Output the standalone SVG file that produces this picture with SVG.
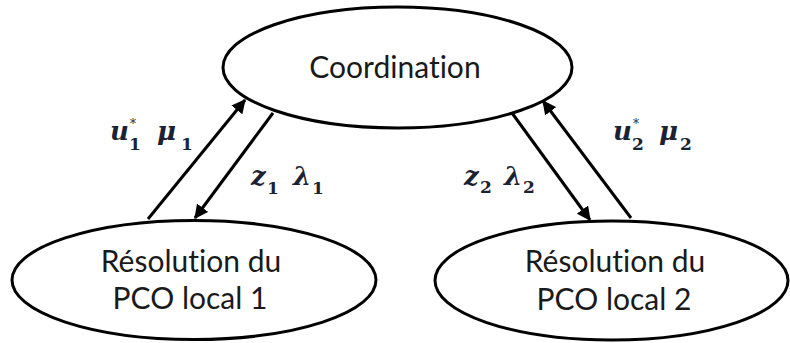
<svg xmlns="http://www.w3.org/2000/svg" width="790" height="343" viewBox="0 0 790 343">
<style>
.node{fill:#fff;stroke:#000;stroke-width:3}
.lbl{font-family:Lato,"Open Sans",sans-serif;font-size:30px;fill:#1a1a1a;text-anchor:middle;font-variant-ligatures:none}
.conn{stroke:#000;stroke-width:3;fill:none;marker-end:url(#arr)}
.m{font-family:"DejaVu Serif",serif;font-weight:bold;font-style:italic;font-size:26px;fill:#1b2233}
.s{font-family:"DejaVu Serif",serif;font-weight:bold;font-size:17px;fill:#1b2233}
.st{font-family:"DejaVu Serif",serif;font-size:12px;fill:#1b2233}
</style>
<defs>
<marker id="arr" viewBox="0 0 12 12" refX="11" refY="6" markerWidth="14" markerHeight="14" markerUnits="userSpaceOnUse" orient="auto">
<path d="M0,0 L12,6 L0,12 z" fill="#000"/>
</marker>
</defs>
<rect width="790" height="343" fill="#fff"/>
<g id="coordination">
<ellipse class="node" cx="397.5" cy="67.5" rx="174.5" ry="60.5"/>
<text class="lbl" x="395" y="78">Coordination</text>
</g>
<g id="pco1">
<ellipse class="node" cx="194" cy="280" rx="182" ry="59.5"/>
<text class="lbl" x="191" y="272">Résolution du</text>
<text class="lbl" x="190" y="309">PCO local 1</text>
</g>
<g id="pco2">
<ellipse class="node" cx="611.5" cy="280.5" rx="176.5" ry="59.5"/>
<text class="lbl" x="615" y="272">Résolution du</text>
<text class="lbl" x="614" y="310">PCO local 2</text>
</g>
<g id="connectors">
<line class="conn" x1="148" y1="219" x2="245" y2="100"/>
<line class="conn" x1="273" y1="113" x2="195" y2="218"/>
<line class="conn" x1="512" y1="113" x2="590" y2="220"/>
<line class="conn" x1="631" y1="218" x2="543" y2="101"/>
</g>
<g id="labels">
<text class="m" x="110" y="140">u</text>
<text class="st" x="130" y="128">*</text>
<text class="s" x="129" y="150">1</text>
<text class="m" x="157" y="140">μ</text>
<text class="s" x="181" y="150">1</text>
<text class="m" x="251" y="185">z</text>
<text class="s" x="267" y="194">1</text>
<text class="m" x="293" y="185">λ</text>
<text class="s" x="312" y="194">1</text>
<text class="m" x="464" y="185">z</text>
<text class="s" x="480" y="193">2</text>
<text class="m" x="504" y="185">λ</text>
<text class="s" x="523" y="193">2</text>
<text class="m" x="613" y="140">u</text>
<text class="st" x="633" y="128">*</text>
<text class="s" x="632" y="150">2</text>
<text class="m" x="659" y="140">μ</text>
<text class="s" x="680" y="150">2</text>
</g>
</svg>
